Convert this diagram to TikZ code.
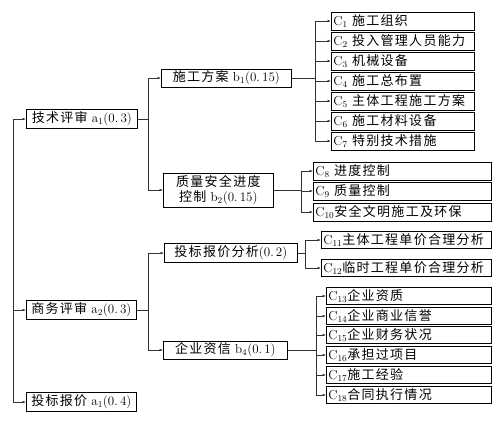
\documentclass[tikz,border=0pt]{standalone}
\usepackage{fontspec}
\usepackage{tikz}
\usetikzlibrary{arrows.meta}
\newfontfamily\cjk[LetterSpace=10]{Noto Sans CJK SC}
\newcommand{\zh}[1]{{\cjk #1}}

\begin{document}
\begin{tikzpicture}[
  x=1pt, y=-1pt,
  every node/.style={font=\fontsize{13}{15}\selectfont},
  critBox/.style={draw, line width=0.7pt, anchor=west, minimum height=18pt, inner sep=2pt},
  leafBox/.style={critBox, text width=#1, align=left},
  wire/.style={line width=0.5pt, black!80},
  wireArr/.style={wire, -{Latex[length=3.5pt,width=2.4pt]}}
]
  \useasboundingbox (0,0) rectangle (503,426);

  % Level 1
  \coordinate (root) at (13,119);
  \node[critBox, minimum width=111pt, minimum height=19pt] (a1) at (26,119) {\zh{技术评审} a$_1$(0.\,3)};
  \node[critBox, minimum width=110pt, minimum height=19pt] (a2) at (26,310) {\zh{商务评审} a$_2$(0.\,3)};
  \node[critBox, minimum width=110pt, minimum height=19pt] (a3) at (26,402) {\zh{投标报价} a$_1$(0.\,4)};
  \draw[wireArr] (root) -- (a1.west);
  \draw[wireArr] (root) |- (a2.west);
  \draw[wireArr] (root) |- (a3.west);

  % Level 2
  \node[critBox, minimum width=130pt] (b1) at (161,78) {\zh{施工方案} b$_1$(0.\,15)};
  \node[critBox, minimum width=110pt, minimum height=34pt, align=center, font=\fontsize{13}{15}\selectfont] (b2) at (163,190)
    {\zh{质量安全进度}\\\zh{控制} b$_2$(0.\,15)};
  \node[critBox, minimum width=133pt, minimum height=19pt] (b3) at (164,253) {\zh{投标报价分析}(0.\,2)};
  \node[critBox, minimum width=124pt] (b4) at (163,350) {\zh{企业资信} b$_4$(0.\,1)};
  \coordinate (aj1) at (148,119);
  \coordinate (aj2) at (148,310);
  \draw[wire] (a1.east) -- (aj1);
  \draw[wireArr] (aj1) |- (b1.west);
  \draw[wireArr] (aj1) |- (b2.west);
  \draw[wire] (a2.east) -- (aj2);
  \draw[wireArr] (aj2) |- (b3.west);
  \draw[wireArr] (aj2) |- (b4.west);

  % Level 3, under b1
  \node[leafBox=139pt] (c1) at (331,21)  {C$_1$ \zh{施工组织}};
  \node[leafBox=139pt] (c2) at (331,41)  {C$_2$ \zh{投入管理人员能力}};
  \node[leafBox=139pt] (c3) at (331,61)  {C$_3$ \zh{机械设备}};
  \node[leafBox=139pt] (c4) at (331,81)  {C$_4$ \zh{施工总布置}};
  \node[leafBox=139pt] (c5) at (331,101) {C$_5$ \zh{主体工程施工方案}};
  \node[leafBox=139pt] (c6) at (331,121) {C$_6$ \zh{施工材料设备}};
  \node[leafBox=139pt] (c7) at (331,141) {C$_7$ \zh{特别技术措施}};
  \coordinate (bj1) at (315,78);
  \draw[wire] (b1.east) -- (bj1);
  \draw[wireArr] (bj1) |- (c1.west);
  \draw[wireArr] (bj1) |- (c2.west);
  \draw[wireArr] (bj1) |- (c3.west);
  \draw[wireArr] (bj1) |- (c4.west);
  \draw[wireArr] (bj1) |- (c5.west);
  \draw[wireArr] (bj1) |- (c6.west);
  \draw[wireArr] (bj1) |- (c7.west);

  % Level 3, under b2
  \node[leafBox=174pt] (c8)  at (313,171) {C$_8$ \zh{进度控制}};
  \node[leafBox=174pt] (c9)  at (313,191) {C$_9$ \zh{质量控制}};
  \node[leafBox=174pt] (c10) at (313,212) {C$_{10}$\zh{安全文明施工及环保}};
  \coordinate (bj2) at (301,190);
  \draw[wire] (b2.east) -- (bj2);
  \draw[wireArr] (bj2) |- (c8.west);
  \draw[wireArr] (bj2) |- (c9.west);
  \draw[wireArr] (bj2) |- (c10.west);

  % Level 3, under b3
  \node[leafBox=166pt, minimum height=17pt] (c11) at (321,240) {C$_{11}$\zh{主体工程单价合理分析}};
  \node[leafBox=166pt, minimum height=17pt] (c12) at (321,268) {C$_{12}$\zh{临时工程单价合理分析}};
  \coordinate (bj3) at (305,253);
  \draw[wire] (b3.east) -- (bj3);
  \draw[wireArr] (bj3) |- (c11.west);
  \draw[wireArr] (bj3) |- (c12.west);

  % Level 3, under b4
  \node[leafBox=161pt, minimum height=17pt] (c13) at (326,296) {C$_{13}$\zh{企业资质}};
  \node[leafBox=161pt, minimum height=17pt] (c14) at (326,316) {C$_{14}$\zh{企业商业信誉}};
  \node[leafBox=161pt, minimum height=17pt] (c15) at (326,335) {C$_{15}$\zh{企业财务状况}};
  \node[leafBox=161pt, minimum height=17pt] (c16) at (326,355) {C$_{16}$\zh{承担过项目}};
  \node[leafBox=161pt, minimum height=17pt] (c17) at (326,375) {C$_{17}$\zh{施工经验}};
  \node[leafBox=161pt, minimum height=17pt] (c18) at (326,395) {C$_{18}$\zh{合同执行情况}};
  \coordinate (bj4) at (316,350);
  \draw[wire] (b4.east) -- (bj4);
  \draw[wireArr] (bj4) |- (c13.west);
  \draw[wireArr] (bj4) |- (c14.west);
  \draw[wireArr] (bj4) |- (c15.west);
  \draw[wireArr] (bj4) |- (c16.west);
  \draw[wireArr] (bj4) |- (c17.west);
  \draw[wireArr] (bj4) |- (c18.west);
\end{tikzpicture}
\end{document}
